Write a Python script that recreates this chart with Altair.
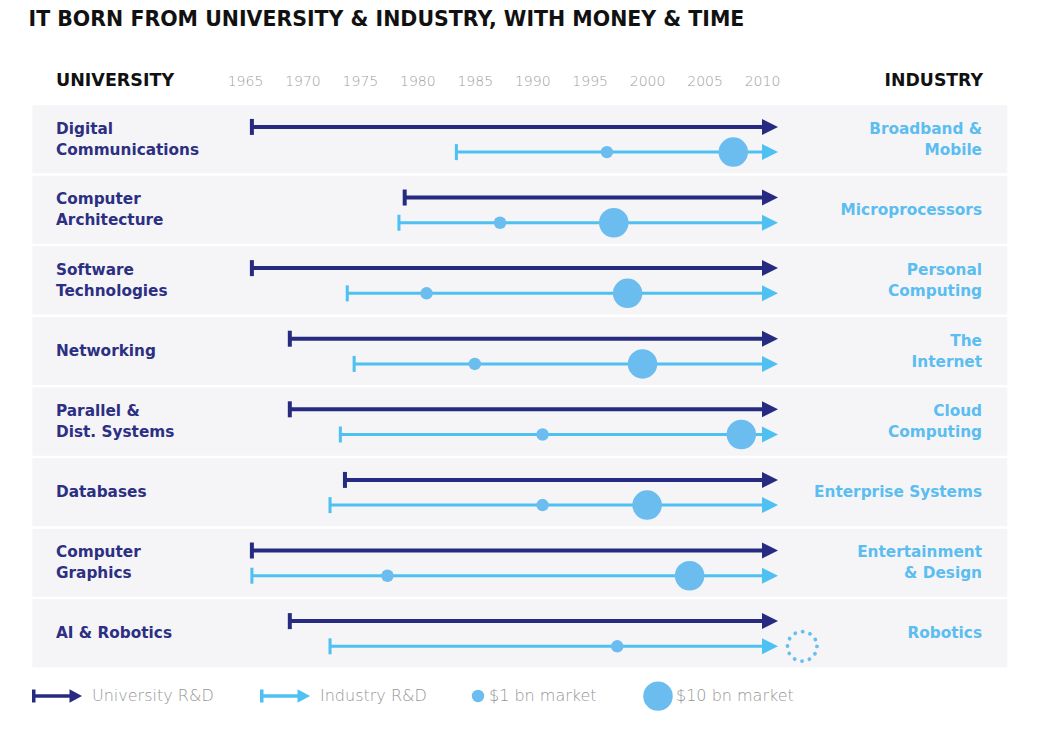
import altair as alt
import pandas as pd

# ---------------- data ----------------
TITLE = "IT BORN FROM UNIVERSITY & INDUSTRY, WITH MONEY & TIME"
HEADER_LEFT = "UNIVERSITY"
HEADER_RIGHT = "INDUSTRY"

technologies = [
    "Digital\nCommunications",
    "Computer\nArchitecture",
    "Software\nTechnologies",
    "Networking",
    "Parallel &\nDist. Systems",
    "Databases",
    "Computer\nGraphics",
    "AI & Robotics",
]
industries = [
    "Broadband &\nMobile",
    "Microprocessors",
    "Personal\nComputing",
    "The\nInternet",
    "Cloud\nComputing",
    "Enterprise Systems",
    "Entertainment\n& Design",
    "Robotics",
]
univ_start = [1965.6, 1978.9, 1965.6, 1968.9, 1968.9, 1973.7, 1965.6, 1968.9]
ind_start = [1983.4, 1978.4, 1973.9, 1974.5, 1973.3, 1972.4, 1965.6, 1972.4]
market_1bn = [1996.5, 1987.2, 1980.8, 1985.0, 1990.9, 1990.9, 1977.4, 1997.4]
market_10bn = [2007.5, 1997.1, 1998.3, 1999.6, 2008.2, 2000.0, 2003.7, None]
projected_10bn = [None, None, None, None, None, None, None, 2013.5]
END_YEAR = 2010
tick_years = [1965, 1970, 1975, 1980, 1985, 1990, 1995, 2000, 2005, 2010]
series_names = ["University R&D", "Industry R&D"]
market_names = ["$1 bn market", "$10 bn market"]

# ---------------- style ----------------
NAVY = "#262a80"
LIGHT = "#4fc0f2"
DOT = "#6bbdef"
LABEL_NAVY = "#2c2f82"
LABEL_LIGHT = "#5bbdf0"
BAND = "#f5f5f7"
FONT = "DejaVu Sans"

PAD_TOP = 14
W, H = 1047, 733 - PAD_TOP
ROW_PX = 70.6
LINE_H = 21
UNIV_OFF, IND_OFF, BAND_HALF = -0.174, 0.183, 0.482

xscale = alt.Scale(domain=[1944.372, 2035.502], nice=False, zero=False)
yscale = alt.Scale(domain=[-1.6601, 8.5241], reverse=True, nice=False, zero=False)
xaxis = alt.Axis(orient="top", values=tick_years, format="d", title=None,
                 domain=False, ticks=False, tickSize=0, grid=False,
                 labelFont=FONT, labelFontSize=14, labelFontWeight=300,
                 labelColor="#9e9e9e", labelPadding=0, labelBaseline="middle",
                 offset=-59, labelFlush=False, labelOverlap=False)


def X(field):
    return alt.X(f"{field}:Q", scale=xscale, axis=xaxis)


def Y(field):
    return alt.Y(f"{field}:Q", scale=yscale, axis=None)


def centred(label, row):
    # first line sits on the anchor, so lift multi-line labels by half their extra height
    extra = label.count("\n")
    return row - extra * 0.5 * LINE_H / ROW_PX


n = len(technologies)
rows_df = pd.DataFrame({
    "row": list(range(n)),
    "tech": technologies,
    "industry": industries,
})
rows_df["y0"] = rows_df["row"] - BAND_HALF
rows_df["y1"] = rows_df["row"] + BAND_HALF
rows_df["tech_pos"] = [centred(t, i) for i, t in enumerate(technologies)]
rows_df["ind_pos"] = [centred(t, i) for i, t in enumerate(industries)]

lines = []
for i in range(n):
    lines.append({"row": i, "series": series_names[0], "start": univ_start[i],
                  "end": END_YEAR, "pos": i + UNIV_OFF})
    lines.append({"row": i, "series": series_names[1], "start": ind_start[i],
                  "end": END_YEAR, "pos": i + IND_OFF})
lines_df = pd.DataFrame(lines)

dots = []
for i in range(n):
    if market_1bn[i] is not None:
        dots.append({"row": i, "market": market_names[0], "year": market_1bn[i], "pos": i + IND_OFF})
    if market_10bn[i] is not None:
        dots.append({"row": i, "market": market_names[1], "year": market_10bn[i], "pos": i + IND_OFF})
dots_df = pd.DataFrame(dots)

proj_df = pd.DataFrame([
    {"row": i, "year": projected_10bn[i], "pos": i + IND_OFF}
    for i in range(n) if projected_10bn[i] is not None
])

TRI = "M-1,-1L1,0L-1,1Z"
BAR_U = "M-0.25,-1H0.25V1H-0.25Z"
BAR_I = "M-0.19,-1H0.19V1H-0.19Z"
ARROW = ("M-1,-0.26L-0.86,-0.26L-0.86,-0.07L0.5,-0.07L0.5,-0.27L1,0L0.5,0.27"
         "L0.5,0.07L-0.86,0.07L-0.86,0.26L-1,0.26Z")

# ---------------- layers ----------------
bands = alt.Chart(rows_df).mark_rect(color=BAND).encode(
    x=alt.value(24.3), x2=alt.value(999.3), y=Y("y0"), y2="y1:Q")

univ_df = lines_df[lines_df["series"] == series_names[0]]
ind_df = lines_df[lines_df["series"] == series_names[1]]

univ_rules = alt.Chart(univ_df).mark_rule(color=NAVY, strokeWidth=4).encode(
    x=X("start"), x2="end:Q", y=Y("pos"))
ind_rules = alt.Chart(ind_df).mark_rule(color=LIGHT, strokeWidth=3).encode(
    x=X("start"), x2="end:Q", y=Y("pos"))

univ_bars = alt.Chart(univ_df).mark_point(shape=BAR_U, filled=True, size=256, opacity=1,
                                          color=NAVY, strokeWidth=0).encode(
    x=X("start"), y=Y("pos"))
ind_bars = alt.Chart(ind_df).mark_point(shape=BAR_I, filled=True, size=256, opacity=1,
                                        color=LIGHT, strokeWidth=0).encode(
    x=X("start"), y=Y("pos"))

label_style = dict(labelFont=FONT, labelFontSize=16, labelFontWeight=300,
                   labelColor="#959595")

heads = alt.Chart(lines_df).mark_point(shape=TRI, filled=True, size=256, opacity=1,
                                       xOffset=8, strokeWidth=0).encode(
    x=X("end"), y=Y("pos"),
    color=alt.Color("series:N",
                    scale=alt.Scale(domain=series_names, range=[NAVY, LIGHT]),
                    legend=alt.Legend(orient="none", legendX=24, legendY=649,
                                      direction="horizontal", title=None,
                                      symbolType=ARROW, symbolSize=2500,
                                      symbolStrokeWidth=0, labelOffset=10,
                                      columnPadding=46, padding=0, **label_style)))

dot_marks = alt.Chart(dots_df).mark_point(shape="circle", filled=True, opacity=1,
                                          color=DOT, strokeWidth=0).encode(
    x=X("year"), y=Y("pos"),
    size=alt.Size("market:N",
                  scale=alt.Scale(domain=market_names, range=[156, 870]),
                  legend=alt.Legend(orient="none", legendX=462, legendY=659,
                                    direction="horizontal", title=None,
                                    symbolFillColor=DOT, symbolStrokeWidth=0,
                                    labelOffset=3, columnPadding=46, padding=0,
                                    **label_style)))

proj = alt.Chart(proj_df).mark_point(shape="circle", filled=False, size=870, opacity=1,
                                     color=DOT, strokeWidth=3.8,
                                     strokeDash=[0.1, 7.62], strokeCap="round").encode(
    x=X("year"), y=Y("pos"))

left_labels = alt.Chart(rows_df).mark_text(
    align="left", baseline="middle", font=FONT, fontWeight="bold", fontSize=15.3,
    color=LABEL_NAVY, lineBreak="\n", lineHeight=LINE_H).encode(
    x=alt.value(48), y=Y("tech_pos"), text="tech:N")

right_labels = alt.Chart(rows_df).mark_text(
    align="right", baseline="middle", font=FONT, fontWeight="bold", fontSize=15.3,
    color=LABEL_LIGHT, lineBreak="\n", lineHeight=LINE_H).encode(
    x=alt.value(974), y=Y("ind_pos"), text="industry:N")

title_df = pd.DataFrame({"t": [TITLE]})
title = alt.Chart(title_df).mark_text(
    align="left", baseline="middle", font=FONT, fontWeight="bold", fontSize=20.5,
    color="#111111").encode(x=alt.value(20.5), y=alt.value(-2.5), text="t:N")

hl_df = pd.DataFrame({"t": [HEADER_LEFT]})
hr_df = pd.DataFrame({"t": [HEADER_RIGHT]})
head_left = alt.Chart(hl_df).mark_text(
    align="left", baseline="middle", font=FONT, fontWeight="bold", fontSize=17.5,
    color="#111111").encode(x=alt.value(48), y=alt.value(59), text="t:N")
head_right = alt.Chart(hr_df).mark_text(
    align="right", baseline="middle", font=FONT, fontWeight="bold", fontSize=17.3,
    color="#111111").encode(x=alt.value(975), y=alt.value(59), text="t:N")

chart = alt.layer(
    bands, univ_rules, ind_rules, univ_bars, ind_bars, heads, dot_marks, proj,
    left_labels, right_labels, title, head_left, head_right
).properties(
    width=W, height=H, autosize=alt.AutoSizeParams(type="none"),
    padding={"top": PAD_TOP, "left": 0, "right": 0, "bottom": 0},
    background="white"
).configure_view(stroke=None)

chart.save("out.html", embed_options={"renderer": "svg", "actions": False})
